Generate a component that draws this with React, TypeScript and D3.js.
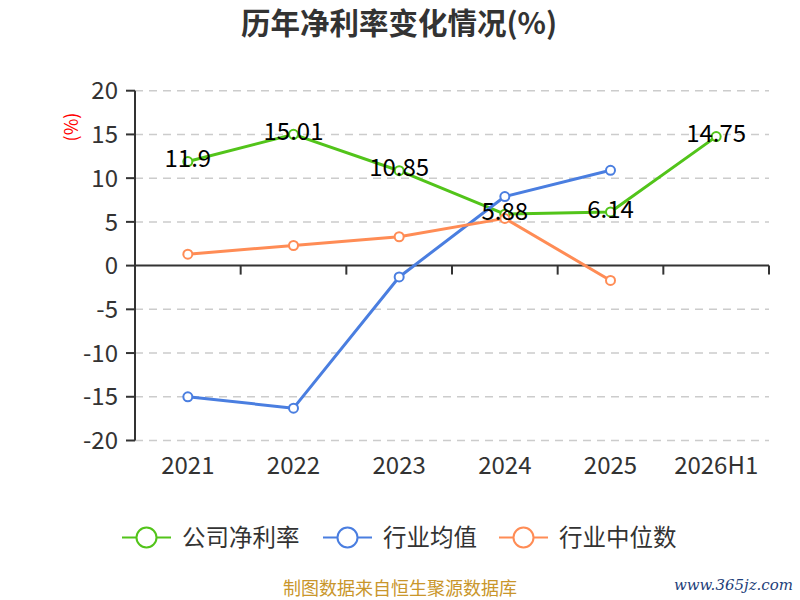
import React from "react";
import { scaleBand, scaleLinear, line } from "d3";

// categories and series
const years = ["2021", "2022", "2023", "2024", "2025", "2026H1"];
const company: (number | null)[] = [11.9, 15.01, 10.85, 5.88, 6.14, 14.75];
const industryMean: (number | null)[] = [-15.0, -16.3, -1.3, 7.9, 10.9, null];
const industryMedian: (number | null)[] = [1.3, 2.3, 3.3, 5.4, -1.7, null];
const yTicks = [-20, -15, -10, -5, 0, 5, 10, 15, 20];

const seriesNames = ["公司净利率", "行业均值", "行业中位数"];
const seriesColors = ["#52c41a", "#4a7ee0", "#ff8c55"];

const W = 800;
const H = 600;
const left = 135;
const right = 769;
const top = 90.7;
const bottom = 440.5;

export default function App() {
    const x = scaleBand<string>().domain(years).range([left, right]);
    const y = scaleLinear().domain([-20, 20]).range([bottom, top]);
    const cx = (d: string) => (x(d) ?? 0) + x.bandwidth() / 2;

    const allSeries = [company, industryMean, industryMedian];

    const mkLine = line<[string, number | null]>()
        .defined((d) => d[1] !== null)
        .x((d) => cx(d[0]))
        .y((d) => y(d[1] as number));

    const font = "'Noto Sans CJK SC', 'Noto Sans', sans-serif";

    // legend item positions
    const legendX = [122, 323, 499];

    return (
        <svg width={W} height={H} style={{ position: "absolute", left: 0, top: 0, background: "#fff" }} fontFamily={font}>
            <text x={399} y={34} textAnchor="middle" fontSize={29.5} fontWeight="bold" fill="#333">
                历年净利率变化情况(%)
            </text>

            {/* y axis title */}
            <text transform="translate(78,127) rotate(-90)" textAnchor="middle" fontSize={18} fill="#ff0000">
                (%)
            </text>

            {/* grid */}
            {yTicks
                .filter((t) => t !== 0)
                .map((t) => (
                    <line key={t} x1={left} x2={right} y1={y(t)} y2={y(t)} stroke="#ccc" strokeDasharray="8,6" strokeWidth={1.5} />
                ))}

            {/* y axis */}
            <line x1={left} x2={left} y1={top} y2={bottom} stroke="#333" strokeWidth={2} />
            {yTicks.map((t) => (
                <g key={t}>
                    <line x1={left - 9} x2={left} y1={y(t)} y2={y(t)} stroke="#333" strokeWidth={2} />
                    <text x={118} y={y(t)} dy="0.36em" textAnchor="end" fontSize={24} fill="#333">
                        {t}
                    </text>
                </g>
            ))}

            {/* x axis at zero */}
            <line x1={left} x2={right} y1={y(0)} y2={y(0)} stroke="#333" strokeWidth={2} />
            {years.map((d) => (
                <line key={d} x1={(x(d) ?? 0) + x.bandwidth()} x2={(x(d) ?? 0) + x.bandwidth()} y1={y(0)} y2={y(0) + 9} stroke="#333" strokeWidth={2} />
            ))}
            {years.map((d) => (
                <text key={d} x={cx(d)} y={474} textAnchor="middle" fontSize={24} fill="#333">
                    {d}
                </text>
            ))}

            {/* lines */}
            {allSeries.map((s, i) => (
                <path
                    key={i}
                    d={mkLine(years.map((d, j) => [d, s[j]])) ?? ""}
                    fill="none"
                    stroke={seriesColors[i]}
                    strokeWidth={3}
                    strokeLinejoin="round"
                />
            ))}
            {allSeries.map((s, i) =>
                years.map((d, j) =>
                    s[j] === null ? null : (
                        <circle key={`${i}-${j}`} cx={cx(d)} cy={y(s[j] as number)} r={4.5} fill="#fff" stroke={seriesColors[i]} strokeWidth={2} />
                    )
                )
            )}

            {/* data labels for company */}
            {years.map((d, j) =>
                company[j] === null ? null : (
                    <text key={d} x={cx(d)} y={y(company[j] as number) - 3} dy="0.36em" textAnchor="middle" fontSize={24} fill="#000">
                        {company[j]}
                    </text>
                )
            )}

            {/* legend */}
            {seriesNames.map((n, i) => (
                <g key={n} transform={`translate(${legendX[i]},537.5)`}>
                    <line x1={0} x2={49} y1={0} y2={0} stroke={seriesColors[i]} strokeWidth={2} />
                    <circle cx={24.5} cy={0} r={10} fill="#fff" stroke={seriesColors[i]} strokeWidth={2} />
                    <text x={60} y={0} dy="0.36em" fontSize={23.5} fill="#333">
                        {n}
                    </text>
                </g>
            ))}

            <text x={400} y={595} textAnchor="middle" fontSize={18} fill="#c9962b">
                制图数据来自恒生聚源数据库
            </text>
            <text x={793} y={590} textAnchor="end" fontSize={15} fill="#1f3f7a" fontFamily="'DejaVu Serif', serif" fontStyle="italic">
                www.365jz.com
            </text>
        </svg>
    );
}
